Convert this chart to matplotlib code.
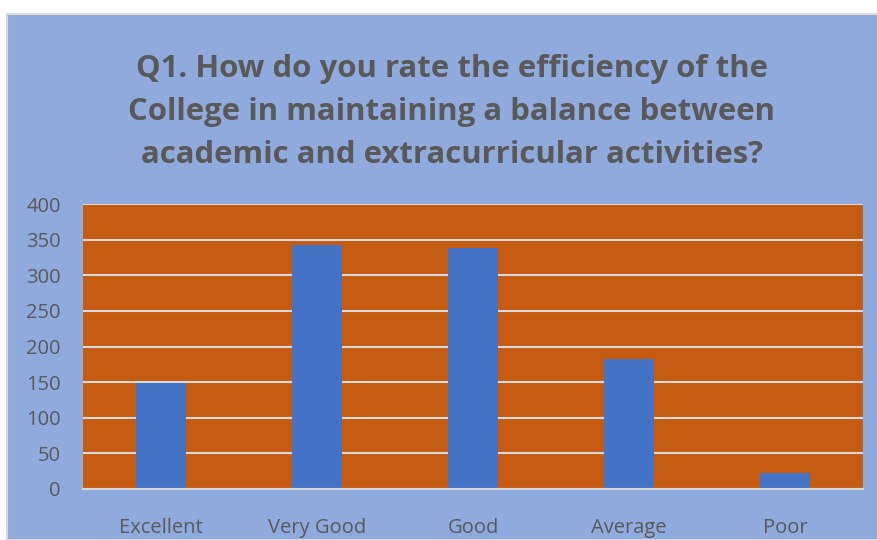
import matplotlib.pyplot as plt
from matplotlib.patches import Rectangle
import numpy as np

# data
categories = ['Excellent', 'Very Good', 'Good', 'Average', 'Poor']
responses = [149, 342, 338, 182, 22]
y_ticks = [0, 50, 100, 150, 200, 250, 300, 350, 400]

title = ('Q1. How do you rate the efficiency of the\n'
         'College in maintaining a balance between\n'
         'academic and extracurricular activities?')

W, H = 877, 540
fig = plt.figure(figsize=(W / 100, H / 100), dpi=100)
fig.patch.set_facecolor('white')

# chart area background with thin grey border
fig.patches.append(Rectangle((7 / W, 0), 1, 1 - 14 / H, transform=fig.transFigure,
                             facecolor='#8FAADC', edgecolor='#D9D9D9', linewidth=1.5,
                             zorder=-10))

ax = fig.add_axes([83 / W, 1 - 489 / H, (863 - 83) / W, (489 - 204) / H])
ax.set_facecolor('#C55A11')

x = np.arange(len(categories))
ax.bar(x, responses, width=0.315, color='#4472C4', zorder=3)

ax.set_xlim(-0.5, len(categories) - 0.5)
ax.set_ylim(0, 400)
ax.set_yticks(y_ticks)
ax.set_xticks(x)
ax.set_xticklabels(categories)
ax.yaxis.grid(True, color='#D9D9D9', linewidth=1.5, zorder=1)
ax.set_axisbelow(True)

for s in ['top', 'right', 'left']:
    ax.spines[s].set_visible(False)
ax.spines['bottom'].set_color('#D9D9D9')
ax.spines['bottom'].set_linewidth(1.5)
ax.spines['bottom'].set_zorder(4)

ax.tick_params(axis='both', length=0, labelsize=14.5, labelcolor='#595959')
ax.tick_params(axis='x', pad=21)
ax.tick_params(axis='y', pad=16)
for lbl in ax.get_xticklabels() + ax.get_yticklabels():
    lbl.set_family('Open Sans')

fig.text(452 / W, 1 - 112 / H, title, ha='center', va='center',
         fontsize=22.4, fontweight='bold', color='#595959', family='Open Sans',
         linespacing=1.55)

fig.savefig('out.png', dpi=100, facecolor=fig.get_facecolor())
